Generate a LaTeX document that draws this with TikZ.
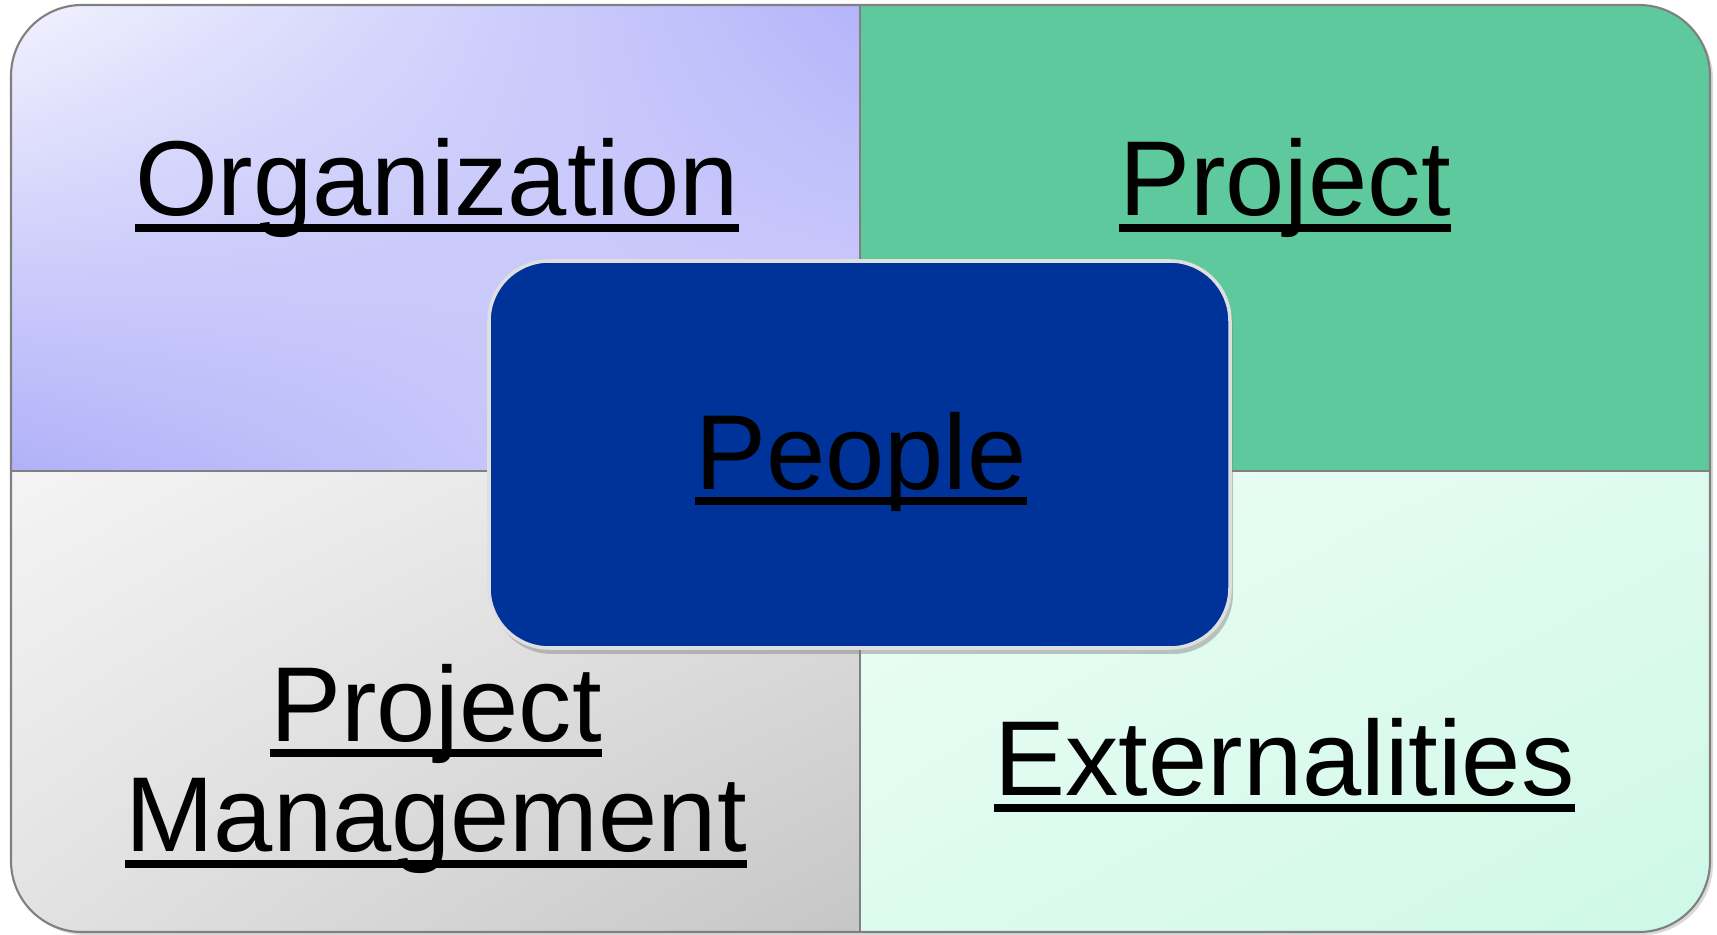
\documentclass[tikz,border=0pt]{standalone}
\usepackage{fontspec}
\setmainfont{Liberation Sans}
\usetikzlibrary{shadows,shadings}

% quarter colours
\definecolor{orglight}{HTML}{F2F2FE}
\definecolor{orgdeep}{HTML}{B4B4FA}
\definecolor{orgcorner}{HTML}{B0B0F9}
\definecolor{orgmid}{HTML}{D6D6FC}
\definecolor{projgreen}{HTML}{5EC99C}
\definecolor{pmlight}{HTML}{F4F4F4}
\definecolor{pmmid}{HTML}{E2E2E2}
\definecolor{pmdark}{HTML}{C6C6C6}
\definecolor{extlight}{HTML}{EEFDF6}
\definecolor{extmid}{HTML}{DEFBEF}
\definecolor{extdark}{HTML}{CEF8E7}
\definecolor{hubblue}{HTML}{003399}
\definecolor{framegray}{HTML}{808080}

% underline that runs through the descenders
\newcommand{\uword}[1]{\setbox0=\hbox{#1}\rlap{\rule[-0.15em]{\wd0}{0.075em}}\box0}

\begin{document}
\begin{tikzpicture}[
    quadlabel/.style={font=\fontsize{30.3}{31.5}\selectfont, text=black, inner sep=0pt, align=center, anchor=base},
    hubbox/.style={rectangle, rounded corners=0.6cm, minimum width=7.41cm, minimum height=3.87cm,
        fill=hubblue, draw=white!75!gray, line width=1pt,
        drop shadow={opacity=0.45, shadow xshift=0.03cm, shadow yshift=-0.06cm}},
    divider/.style={framegray, line width=0.6pt}
  ]
    % Fix the page size
    \useasboundingbox (0,0) rectangle (17.17,9.35);

    % Outer frame with its shadow
    \path[rounded corners=0.71cm, fill=white, drop shadow={opacity=0.3, shadow xshift=0.03cm, shadow yshift=-0.03cm}]
        (0.11,0.03) rectangle (17.10,9.30);

    % The four quarters, clipped to the frame
    \begin{scope}
        \clip[rounded corners=0.71cm] (0.11,0.03) rectangle (17.10,9.30);
        \shade[upper left=orglight, upper right=orgdeep, lower left=orgcorner, lower right=orgmid]
            (0.11,4.64) rectangle (8.60,9.30);
        \fill[projgreen] (8.60,4.64) rectangle (17.10,9.30);
        \shade[upper left=pmlight, upper right=pmmid, lower left=pmmid, lower right=pmdark]
            (0.11,0.03) rectangle (8.60,4.64);
        \shade[upper left=extlight, upper right=extmid, lower left=extmid, lower right=extdark]
            (8.60,0.03) rectangle (17.10,4.64);
    \end{scope}

    % Dividing lines and frame outline
    \draw[divider] (8.60,0.03) -- (8.60,9.30);
    \draw[divider] (0.11,4.64) -- (17.10,4.64);
    \draw[divider, rounded corners=0.71cm] (0.11,0.03) rectangle (17.10,9.30);

    % Centre box
    \node[hubbox] (people) at (8.595,4.805) {};

    % Labels (base = last line)
    \node[quadlabel] (organization) at (4.37,7.19) {\uword{Organization}};
    \node[quadlabel] (project) at (12.85,7.19) {\uword{Project}};
    \node[quadlabel] (peoplelabel) at (8.61,4.455) {\uword{People}};
    \node[quadlabel] (projmgmt) at (4.36,0.83) {\uword{Project}\\\uword{Management}};
    \node[quadlabel] (externalities) at (12.845,1.39) {\uword{Externalities}};
\end{tikzpicture}
\end{document}
